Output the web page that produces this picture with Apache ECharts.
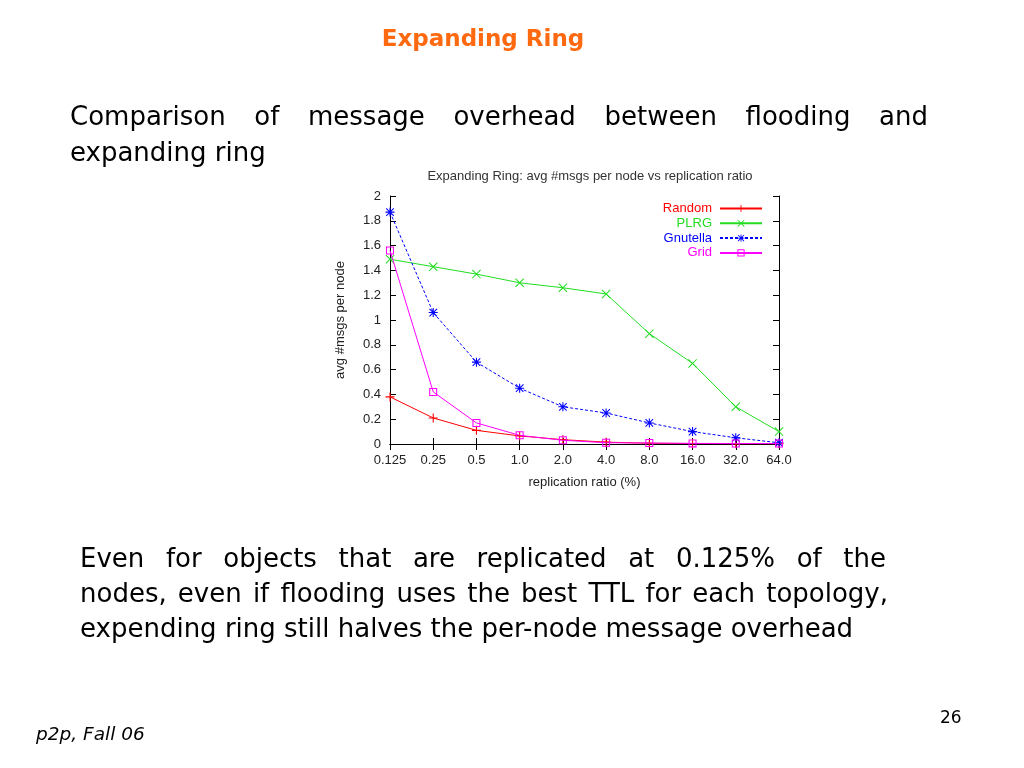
<!DOCTYPE html>
<html>
<head>
<meta charset="utf-8">
<script src="https://cdn.jsdelivr.net/npm/echarts@6/dist/echarts.min.js"></script>
<style>
  html, body { margin:0; padding:0; background:#fff; }
  #wrap { position:relative; width:1024px; height:768px; overflow:hidden; }
  #chart { position:absolute; left:0; top:0; width:1024px; height:768px; }
  .t { position:absolute; font-family:"DejaVu Sans","Noto Sans",sans-serif; color:#000; white-space:nowrap; }
  .just { text-align:justify; text-align-last:justify; white-space:normal; }
</style>
</head>
<body>
<div id="wrap">
  <div id="chart"></div>
  <div class="t" style="left:0;width:966px;top:25px;text-align:center;font-size:23px;font-weight:bold;color:#ff6a10;">Expanding Ring</div>
  <div class="t just" style="left:70px;width:858px;top:98px;font-size:26px;line-height:36px;">Comparison of message overhead between flooding and</div>
  <div class="t" style="left:70px;top:134px;font-size:26px;line-height:36px;">expanding ring</div>
  <div class="t just" style="left:80px;width:806px;top:541px;font-size:26px;line-height:35px;">Even for objects that are replicated at 0.125% of the</div>
  <div class="t just" style="left:80px;width:808px;top:576px;font-size:26px;line-height:35px;">nodes, even if flooding uses the best TTL for each topology,</div>
  <div class="t" style="left:80px;top:611px;font-size:26px;line-height:35px;">expending ring still halves the per-node message overhead</div>
  <div class="t" style="left:36px;top:723px;font-size:18.5px;font-style:italic;">p2p, Fall 06</div>
  <div class="t" style="left:940px;top:707px;font-size:17px;">26</div>
</div>
<script>
const categories = ['0.125','0.25','0.5','1.0','2.0','4.0','8.0','16.0','32.0','64.0'];
const seriesNames = ['Random','PLRG','Gnutella','Grid'];
const randomVals   = [0.38, 0.21, 0.11, 0.065, 0.035, 0.015, 0.006, 0.004, 0.002, 0.002];
const plrgVals     = [1.49, 1.43, 1.37, 1.30, 1.26, 1.21, 0.89, 0.65, 0.30, 0.10];
const gnutellaVals = [1.87, 1.06, 0.66, 0.45, 0.30, 0.25, 0.17, 0.10, 0.05, 0.01];
const gridVals     = [1.56, 0.42, 0.17, 0.07, 0.03, 0.01, 0.008, 0.005, 0.004, 0.004];
const yTicks = [0, 0.2, 0.4, 0.6, 0.8, 1, 1.2, 1.4, 1.6, 1.8, 2];

const colors = ['#ff0000', '#22dd22', '#0000ff', '#ff00ff'];
const plusPath = 'path://M0,4.4h10v1.2h-10z M4.4,0h1.2v10h-1.2z';
const xPath = 'path://M0.8,0L10,9.2L9.2,10L0,0.8z M9.2,0L10,0.8L0.8,10L0,9.2z';
const starPath = 'path://M0,4.4h10v1.2h-10z M4.4,0h1.2v10h-1.2z M1.2,0.4L9.6,8.8L8.8,9.6L0.4,1.2z M8.8,0.4L9.6,1.2L1.2,9.6L0.4,8.8z';
const squarePath = 'path://M0,0H10V10H0Z M1.3,1.3V8.7H8.7V1.3Z';
const symbols = [plusPath, xPath, starPath, squarePath];
const dataSets = [randomVals, plrgVals, gnutellaVals, gridVals];

const chart = echarts.init(document.getElementById('chart'));
const axisFont = { fontFamily: 'Liberation Sans, Arial, sans-serif', fontSize: 13, color: '#222' };

chart.setOption({
  animation: false,
  title: {
    text: 'Expanding Ring: avg #msgs per node vs replication ratio',
    left: 585, top: 165, textAlign: 'center',
    textStyle: { fontFamily: 'Liberation Sans, Arial, sans-serif', fontSize: 13, fontWeight: 'normal', color: '#333' }
  },
  legend: {
    orient: 'vertical', right: 256, top: 197, align: 'right',
    itemWidth: 42, itemHeight: 9, itemGap: 1.8,
    textStyle: { fontFamily: 'Liberation Sans, Arial, sans-serif', fontSize: 13, padding: [0, 3, 0, 0] },
    data: seriesNames.map((n, i) => ({ name: n, textStyle: { color: colors[i] } }))
  },
  grid: { left: 390, right: 245, top: 196, bottom: 324 },
  xAxis: [
    {
      type: 'category', data: categories, boundaryGap: false, position: 'bottom',
      name: 'replication ratio (%)', nameLocation: 'middle', nameGap: 32,
      nameTextStyle: axisFont,
      axisLine: { lineStyle: { color: '#000', width: 1 } },
      axisTick: { inside: true, length: 6, lineStyle: { color: '#000' } },
      axisLabel: Object.assign({ margin: 10 }, axisFont),
      splitLine: { show: false }
    },
    {
      type: 'category', data: categories, boundaryGap: false, position: 'top',
      axisLine: { lineStyle: { color: '#000', width: 1 } },
      axisTick: { inside: true, length: 6, lineStyle: { color: '#000' } },
      axisLabel: { show: false }, splitLine: { show: false }
    }
  ],
  yAxis: [
    {
      type: 'value', min: 0, max: 2, interval: 0.2, position: 'left',
      name: 'avg #msgs per node', nameLocation: 'middle', nameGap: 43, nameRotate: 90,
      nameTextStyle: axisFont,
      axisLine: { show: true, lineStyle: { color: '#000', width: 1 } },
      axisTick: { show: true, inside: true, length: 6, lineStyle: { color: '#000' } },
      axisLabel: Object.assign({ margin: 9, formatter: v => String(Math.round(v * 10) / 10) }, axisFont),
      splitLine: { show: false }
    },
    {
      type: 'value', min: 0, max: 2, interval: 0.2, position: 'right',
      axisLine: { show: true, lineStyle: { color: '#000', width: 1 } },
      axisTick: { show: true, inside: true, length: 6, lineStyle: { color: '#000' } },
      axisLabel: { show: false }, splitLine: { show: false }
    }
  ],
  series: seriesNames.map((n, i) => ({
    name: n, type: 'line', data: dataSets[i],
    xAxisIndex: 0, yAxisIndex: 0,
    symbol: symbols[i], symbolSize: i === 3 ? 8 : 9, showAllSymbol: true,
    lineStyle: { color: colors[i], width: 1, type: i === 2 ? [3, 2] : 'solid' },
    itemStyle: { color: colors[i], borderWidth: 0 },
    emphasis: { disabled: true },
    z: 2 + i
  }))
});
</script>
</body>
</html>
